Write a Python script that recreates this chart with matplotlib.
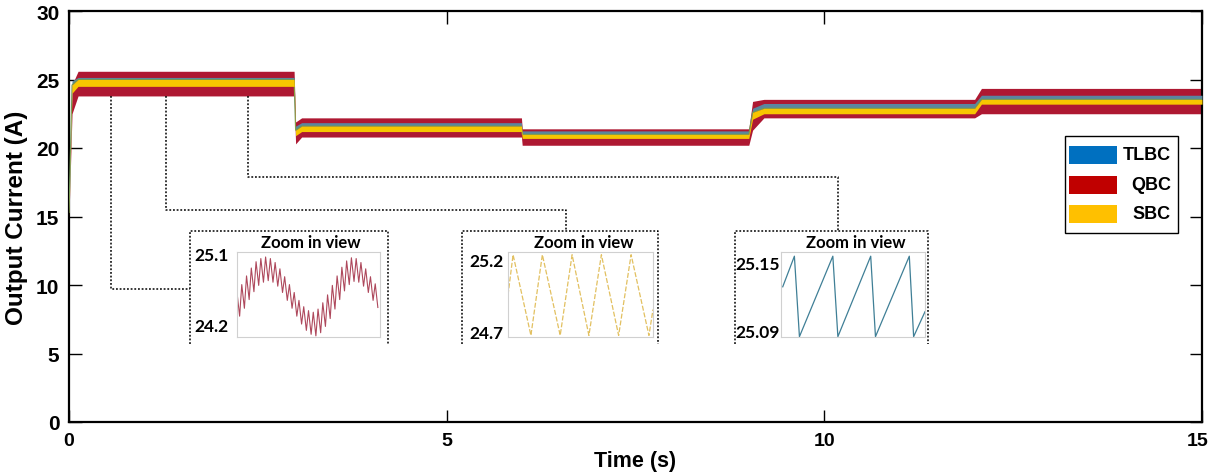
import matplotlib
matplotlib.use("Agg")
import matplotlib.pyplot as plt
import matplotlib.transforms as mtransforms
import numpy as np

# ---- main traces: band envelopes at knot times (A) ----
t_knots = [0, 0.04, 0.12, 2.98, 3.0, 3.08, 5.99, 6.0, 9.0, 9.05, 9.2, 11.99, 12.08, 15]
qbc_hi = [15.0, 24.6, 25.6, 25.6, 21.9, 22.2, 22.2, 21.4, 21.4, 23.4, 23.55, 23.55, 24.35, 24.35]
qbc_lo = [15.0, 22.5, 23.8, 23.8, 20.3, 20.8, 20.8, 20.2, 20.2, 21.3, 22.2, 22.2, 22.5, 22.5]
sbc_hi = [15.3, 24.6, 25.0, 25.0, 21.3, 21.6, 21.6, 21.0, 21.0, 22.6, 22.9, 22.9, 23.55, 23.55]
sbc_lo = [15.0, 24.0, 24.5, 24.5, 20.9, 21.2, 21.2, 20.7, 20.7, 22.1, 22.5, 22.5, 23.2, 23.2]
tlbc_hi = [16.8, 24.9, 25.15, 25.15, 21.6, 21.85, 21.85, 21.25, 21.25, 22.9, 23.25, 23.25, 23.85, 23.85]

labels = ["TLBC", "QBC", "SBC"]
colors = ["#0070c0", "#c00000", "#ffc000"]

# ---- zoom-in views ----
# QBC: ripple centres along the slow oscillation
qbc_zoom_centre = [24.45, 24.55, 24.66, 24.76, 24.84, 24.88, 24.9, 24.88, 24.83, 24.75,
                   24.65, 24.55, 24.45, 24.35, 24.27, 24.22, 24.2, 24.24, 24.32, 24.42,
                   24.54, 24.66, 24.77, 24.85, 24.89, 24.88, 24.83, 24.75, 24.65, 24.56]
qbc_zoom_ripple = 0.15
# SBC: triangle vertices
sbc_zoom_x = [0, 0.035, 0.158, 0.237, 0.36, 0.442, 0.558, 0.644, 0.763, 0.849, 0.972, 1.0]
sbc_zoom_y = [24.95, 25.23, 24.67, 25.23, 24.67, 25.23, 24.67, 25.23, 24.67, 25.23, 24.67, 24.85]
# TLBC: sawtooth vertices
tlbc_zoom_x = [0.012, 0.093, 0.128, 0.36, 0.395, 0.623, 0.656, 0.891, 0.921, 1.0]
tlbc_zoom_y = [25.129, 25.156, 25.085, 25.156, 25.085, 25.156, 25.085, 25.156, 25.085, 25.107]

W, H = 1211, 477
fig = plt.figure(figsize=(W / 100, H / 100), dpi=100)
plt.rcParams["font.family"] = ["Liberation Sans", "DejaVu Sans"]


def px_axes(x0, y0, x1, y1):
    return fig.add_axes([x0 / W, (H - y1) / H, (x1 - x0) / W, (y1 - y0) / H])


ax = px_axes(69, 12, 1202, 423)
ax.fill_between(t_knots, qbc_lo, qbc_hi, color="#ae1832", lw=0, zorder=2)
ax.fill_between(t_knots, sbc_hi, tlbc_hi, color="#5a86a0", lw=0, zorder=3)
ax.plot(t_knots, sbc_hi, color="#6f9a55", lw=0.8, zorder=4)
ax.fill_between(t_knots, sbc_lo, sbc_hi, color="#f7c600", lw=0, zorder=4)

ax.set_xlim(0, 15)
ax.set_ylim(0, 30)
ax.set_xticks([0, 5, 10, 15])
ax.set_yticks(range(0, 31, 5))
ax.tick_params(direction="in", length=9, width=1, top=True, right=True,
               labelsize=15, pad=7)
ax.tick_params(axis="x", labelsize=14)
for lab in ax.get_xticklabels() + ax.get_yticklabels():
    lab.set_fontweight("bold")
# keep the last x label inside the canvas
last = ax.get_xticklabels()[-1]
last.set_transform(last.get_transform() +
                   mtransforms.ScaledTranslation(-4 / 100, 0, fig.dpi_scale_trans))
for s in ax.spines.values():
    s.set_linewidth(1.6)
ax.set_xlabel("Time (s)", fontsize=15.5, fontweight="bold", labelpad=1)
ax.set_ylabel("Output Current (A)", fontsize=17.5, fontweight="bold", labelpad=6)

# dotted connectors and inset frames (data coords of the main axes)
dot = dict(color="black", lw=1.1, ls=(0, (1.2, 1.2)), zorder=5)
ax.plot([0.56, 0.56, 1.60], [23.8, 9.71, 9.71], **dot)
ax.plot([1.28, 1.28, 6.58, 6.58], [23.8, 15.47, 15.47, 13.94], **dot)
ax.plot([2.37, 2.37, 10.18, 10.18], [23.8, 17.88, 17.88, 13.94], **dot)
for a, b in [(1.60, 4.22), (5.20, 7.80), (8.82, 11.37)]:
    ax.plot([a, a, b, b], [5.69, 13.94, 13.94, 5.69], **dot)

# legend drawn as boxes + right-aligned names
lx0, lx1, ly0, ly1 = 1065, 1178, 137, 234
fr = lambda x, y: ((x - 69) / 1133, (423 - y) / 411)
ax.add_patch(plt.Rectangle(fr(lx0, ly1), (lx1 - lx0) / 1133, (ly1 - ly0) / 411,
                           transform=ax.transAxes, fc="white", ec="black", lw=1, zorder=6))
for lab, col, yc in zip(labels, colors, [156, 186, 215]):
    ax.add_patch(plt.Rectangle(fr(1069, yc + 9), 48 / 1133, 18 / 411,
                               transform=ax.transAxes, fc=col, ec="none", zorder=7))
    ax.text(*fr(1171, yc), lab, transform=ax.transAxes, ha="right", va="center",
            fontsize=13, fontweight="bold", zorder=7)

zfont = dict(family=["Lato", "DejaVu Sans"], fontweight="bold")

# inset 1: QBC
a1 = px_axes(237, 253, 380, 338)
n = len(qbc_zoom_centre)
xs, ys = [], []
for i, c in enumerate(qbc_zoom_centre):
    xs += [i / n, (i + 0.55) / n]
    ys += [c + qbc_zoom_ripple, c - qbc_zoom_ripple]
a1.plot(xs, ys, color="#a0283f", lw=0.8, alpha=0.85)
a1.set_ylim(24.036, 25.113)
a1.set_yticks([24.2, 25.1])
a1.set_yticklabels(["24.2", "25.1"])

# inset 2: SBC
a2 = px_axes(508, 253, 653, 338)
a2.plot(sbc_zoom_x, sbc_zoom_y, color="#e2c060", lw=0.9, ls=(0, (4, 1.5)))
a2.set_ylim(24.659, 25.249)
a2.set_yticks([24.7, 25.2])
a2.set_yticklabels(["24.7", "25.2"])

# inset 3: TLBC
a3 = px_axes(781, 253, 925, 338)
a3.plot(tlbc_zoom_x, tlbc_zoom_y, color="#3f7f96", lw=0.9)
a3.set_ylim(25.0847, 25.1597)
a3.set_yticks([25.09, 25.15])
a3.set_yticklabels(["25.09", "25.15"])

for a, pad, xc in [(a1, 6, 311), (a2, 3, 584), (a3, 1, 856)]:
    a.set_xlim(0, 1)
    a.set_xticks([])
    a.tick_params(axis="y", length=0, pad=pad, labelsize=12.5)
    for lab in a.get_yticklabels():
        lab.set_fontfamily(["Lato", "DejaVu Sans"])
        lab.set_fontweight("bold")
    for s in a.spines.values():
        s.set_color("#d0d0d0")
        s.set_linewidth(0.8)
    fig.text(xc / W, (H - 243) / H, "Zoom in view", ha="center", va="center",
             fontsize=12, **zfont)

fig.savefig("out.png", dpi=100)
